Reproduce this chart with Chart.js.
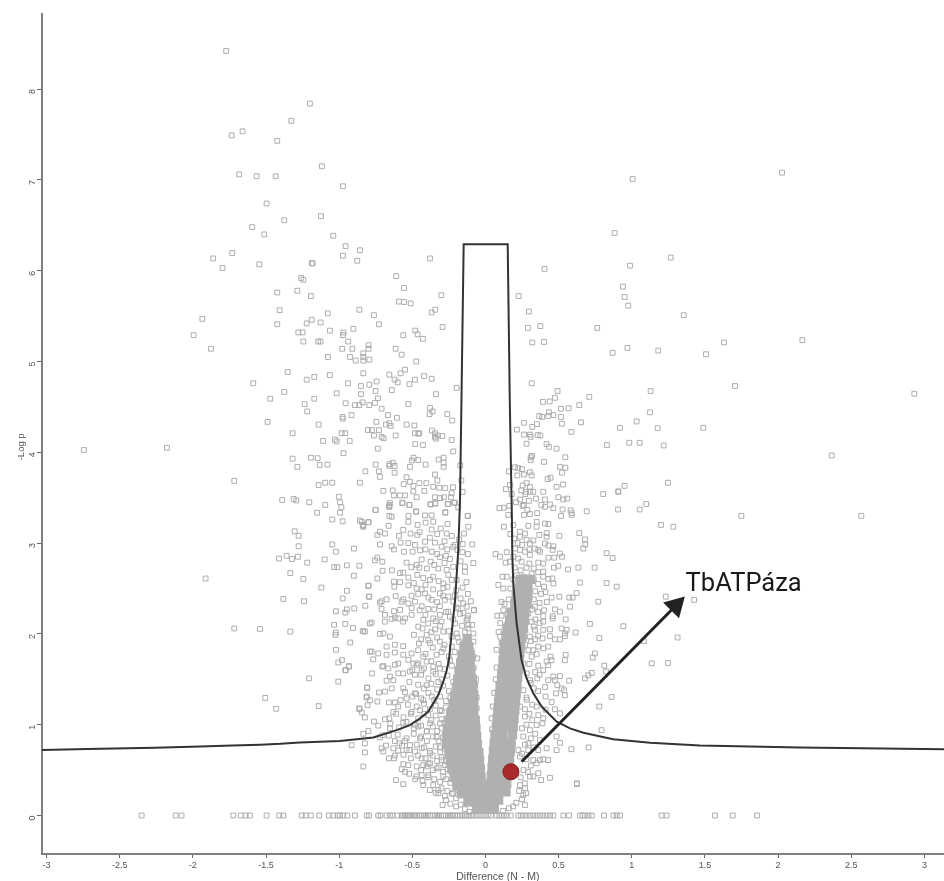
<!DOCTYPE html>
<html>
<head>
<meta charset="utf-8">
<title>Volcano plot</title>
<script src="https://cdn.jsdelivr.net/npm/chart.js@4/dist/chart.umd.js"></script>
<style>
    html, body { margin: 0; padding: 0; background: #fff; overflow: hidden; }
    canvas { display: block; filter: blur(0.45px); }
</style>
</head>
<body>
<canvas id="volcanoChart" width="944" height="881"></canvas>
<script>

const xTicks = [-3, -2.5, -2, -1.5, -1, -0.5, 0, 0.5, 1, 1.5, 2, 2.5, 3];
const yTicks = [0, 1, 2, 3, 4, 5, 6, 7, 8];
const xTitle = "Difference (N - M)";
const xTitleAt = [.085, -.68];
const yTitle = "-Log p";
const yTitleAt = [-3.17, 4.06];
const calloutLabel = "TbATPáza";
const calloutAt = [1.368, 2.472];

// significance curve
const curvePoints = [
    [-3.04,.72],[-2.72,.733],[-2.26,.747],[-1.95,.76],[-1.73,.77],[-1.54,.78],[-1.4,.79],[-1.27,.805],[-.995,.82],[-.767,.86],[-.607,.94],[-.516,.995],
    [-.447,1.07],[-.391,1.145],[-.357,1.235],[-.322,1.33],[-.3,1.42],[-.277,1.53],[-.265,1.6],[-.25,1.71],[-.231,2.01],[-.208,2.37],[-.186,2.92],[-.174,3.475],[-.164,4.58],[-.149,6.29],
    [.152,6.29],[.166,4.58],[.181,3.25],[.183,2.92],[.19,2.555],[.213,2.115],[.247,1.71],[.281,1.51],[.327,1.345],[.384,1.2],[.487,1.033],[.578,.96],[.669,.912],[.873,.84],[1.125,.8],[1.466,.77],[2.15,.75],[3.14,.73]
];

// the highlighted protein and its arrow
const proteinPoint = [.174, .482];
const arrowPoints = [[.247, .592], [1.3, 2.31]];

// outer points, left of zero
const leftOuterPoints = [
    [-1.772,8.42],[-1.327,7.65],[-1.66,7.535],[-1.735,7.49],[-1.423,7.43],[-1.683,7.06],[-1.564,7.04],[-1.434,7.04],[-1.496,6.74],[-1.375,6.555],
    [-1.594,6.48],[-1.512,6.4],[-1.731,6.195],[-1.861,6.135],[-1.797,6.03],[-1.546,6.07],[-1.423,5.76],[-1.286,5.78],[-1.2,7.84],[-1.118,7.15],
    [-.974,6.93],[-1.124,6.6],[-1.186,6.085],[-1.26,5.92],[-2.745,4.025],[-2.177,4.05],[-1.935,5.47],[-1.995,5.29],[-1.876,5.14],[-1.407,5.565],
    [-1.423,5.41],[-1.279,5.32],[-1.352,4.885],[-1.587,4.76],[-1.375,4.665],[-1.471,4.59],[-1.489,4.335],[-1.318,4.21],[-1.318,3.93],[-1.286,3.84],
    [-1.717,3.685],[-1.389,3.475],[-1.311,3.485],[-1.293,3.47],[-1.913,2.61],[-1.304,3.13],[-1.277,3.08],[-1.277,2.965],[-1.411,2.83],[-1.359,2.86],
    [-1.323,2.825],[-1.282,2.85],[-1.218,2.785],[-1.334,2.67],[-1.245,2.605],[-1.382,2.385],[-1.24,2.36],[-1.717,2.06],[-1.541,2.055],[-1.334,2.025],
    [-1.206,1.51],[-1.505,1.295],[-1.43,1.175],[-1.14,1.205]
];

// upper left cloud, down to about 3.3
const leftUpperPoints = [
    [-1.04,6.385],[-.956,6.27],[-.858,6.225],[-.974,6.165],[-.876,6.11],[-1.181,6.08],[-.379,6.135],[-1.245,5.9],[-.61,5.94],[-.557,5.81],
    [-1.193,5.72],[-.302,5.73],[-.591,5.66],[-.557,5.655],[-.511,5.64],[-.862,5.57],[-1.077,5.53],[-.762,5.51],[-.368,5.54],[-.343,5.57],
    [-1.188,5.46],[-1.127,5.43],[-1.222,5.42],[-.728,5.41],[-.293,5.38],[-1.063,5.34],[-.903,5.36],[-1.25,5.32],[-.97,5.32],[-.974,5.29],
    [-.562,5.29],[-.48,5.34],[-.464,5.3],[-.427,5.25],[-1.245,5.22],[-1.143,5.22],[-1.127,5.22],[-.938,5.22],[-.799,5.18],[-.799,5.14],
    [-.979,5.14],[-.91,5.14],[-.614,5.14],[-.573,5.075],[-.835,5.09],[-.835,5.05],[-.835,5.01],[-1.077,5.05],[-.926,5.05],[-.887,5.01],
    [-.794,5.02],[-.473,5],[-.55,4.91],[-.58,4.87],[-.835,4.87],[-.657,4.855],[-1.063,4.85],[-1.17,4.83],[-1.222,4.8],[-.42,4.84],
    [-.368,4.81],[-.621,4.8],[-.6,4.77],[-.744,4.78],[-.482,4.8],[-.52,4.75],[-.94,4.76],[-.794,4.745],[-.851,4.73],[-.197,4.71],
    [-1.017,4.65],[-.851,4.64],[-.751,4.675],[-.64,4.685],[-.338,4.64],[-1.17,4.59],[-.735,4.595],[-.956,4.54],[-.755,4.545],[-.892,4.52],
    [-.862,4.52],[-.84,4.55],[-.794,4.52],[-.527,4.53],[-1.236,4.53],[-1.218,4.45],[-.71,4.48],[-.379,4.49],[-.361,4.45],[-.382,4.42],
    [-.666,4.41],[-.976,4.39],[-.976,4.37],[-.915,4.41],[-.605,4.38],[-.261,4.42],[-.227,4.35],[-1.14,4.305],[-.746,4.335],[-.68,4.305],
    [-.657,4.32],[-.648,4.29],[-.539,4.305],[-.486,4.295],[-.803,4.245],[-.776,4.245],[-.728,4.245],[-.983,4.21],[-.958,4.21],[-.366,4.24],
    [-.345,4.21],[-.482,4.21],[-.459,4.205],[-.452,4.21],[-.762,4.185],[-.614,4.185],[-.71,4.17],[-.696,4.155],[-.325,4.185],[-.295,4.18],
    [-.338,4.15],[-.345,4.17],[-1.029,4.14],[-1.017,4.12],[-1.11,4.125],[-.928,4.125],[-.231,4.135],[-.48,4.09],[-.427,4.08],[-.735,4.04],
    [-.97,3.99],[-.22,4.01],[-1.193,3.94],[-1.147,3.935],[-.491,3.94],[-.459,3.915],[-.502,3.91],[-.32,3.92],[-.286,3.94],[-.286,3.885],
    [-.286,3.84],[-1.133,3.86],[-1.08,3.865],[-.751,3.865],[-.657,3.87],[-.634,3.885],[-.621,3.85],[-.657,3.85],[-.516,3.84],[-.409,3.865],
    [-.172,3.855],[-.821,3.79],[-.728,3.79],[-.621,3.775],[-.721,3.73],[-.345,3.755],[-.539,3.725],[-.329,3.69],[-.165,3.69],[-1.14,3.64],
    [-1.095,3.665],[-1.047,3.665],[-.858,3.665],[-.559,3.65],[-.516,3.675],[-.493,3.63],[-.452,3.66],[-.404,3.66],[-.357,3.62],[-.316,3.61],
    [-.275,3.605],[-.222,3.615],[-.698,3.575],[-.634,3.58],[-.625,3.525],[-.584,3.525],[-.55,3.525],[-.493,3.57],[-.418,3.575],[-.156,3.565],
    [-1.002,3.51],[-.994,3.45],[-.985,3.395],[-.994,3.335],[-.47,3.505],[-.345,3.505],[-.311,3.495],[-.284,3.505],[-.231,3.55],[-.236,3.505],
    [-1.204,3.45],[-1.095,3.42],[-.657,3.42],[-.568,3.44],[-.52,3.42],[-.375,3.425],[-.343,3.435],[-.259,3.43],[-.215,3.445],[-.186,3.395],
    [-1.151,3.335],[-.751,3.365],[-.657,3.405],[-.475,3.35],[-.275,3.335],[-.12,3.3]
];

// middle left cloud, 1.6 to 3.3
const leftMiddlePoints = [
    [-1.047,3.26],[-.976,3.24],[-.858,3.25],[-.839,3.2],[-.835,3.18],[-.801,3.23],[-1.047,2.985],[-1.022,2.905],[-.899,2.94],[-1.099,2.82],
    [-1.035,2.735],[-1.013,2.735],[-.947,2.755],[-.862,2.75],[-.899,2.64],[-1.122,2.51],[-.947,2.475],[-.801,2.53],[-.976,2.39],[-.797,2.41],
    [-1.022,2.25],[-.958,2.235],[-.947,2.27],[-.897,2.28],[-.821,2.31],[-1.035,2.1],[-.958,2.11],[-.906,2.065],[-.839,2.03],[-.824,2.025],
    [-.79,2.115],[-1.026,1.99],[-1.022,2.015],[-.924,1.905],[-1.022,1.825],[-.79,1.805],[-1.006,1.685],[-.981,1.71],[-.933,1.64],[-.958,1.6],
    [-1.006,1.475],[-.81,1.405],[-.812,1.3],[-.806,1.215],[-.862,1.18],
    [-.653,3.44],[-.657,3.4],[-.568,3.445],[-.52,3.42],[-.375,3.43],[-.345,3.44],[-.254,3.43],[-.208,3.445],[-.751,3.365],[-.657,3.3],
    [-.641,3.29],[-.473,3.345],[-.527,3.3],[-.413,3.305],[-.368,3.305],[-.274,3.34],[-.122,3.3],[-.846,3.235],[-.835,3.19],[-.799,3.23],
    [-.662,3.19],[-.721,3.125],[-.687,3.105],[-.739,3.09],[-.527,3.235],[-.464,3.2],[-.409,3.225],[-.357,3.235],[-.259,3.21],[-.117,3.18],
    [-.562,3.145],[-.512,3.105],[-.466,3.09],[-.368,3.15],[-.306,3.16],[-.265,3.105],[-.591,3.08],[-.58,3.005],[-.721,2.985],[-.641,2.965],
    [-.625,2.93],[-.557,2.905],[-.527,3],[-.482,2.98],[-.413,3.015],[-.345,3.005],[-.3,2.96],[-.208,2.98],[-.147,3.105],[-.156,2.99],
    [-.09,2.985],[-.447,2.92],[-.498,2.905],[-.368,2.905],[-.261,2.93],[-.192,2.925],[-.158,2.9],[-.755,2.81],[-.739,2.84],[-.705,2.795],
    [-.539,2.785],[-.436,2.82],[-.375,2.795],[-.311,2.845],[-.243,2.825],[-.083,2.78],[-.14,2.74],[-.703,2.695],[-.639,2.7],[-.507,2.735],
    [-.452,2.73],[-.322,2.72],[-.265,2.705],[-.14,2.685],[-.584,2.67],[-.562,2.675],[-.527,2.62],[-.466,2.65],[-.425,2.615],[-.357,2.63],
    [-.254,2.65],[-.197,2.595],[-.739,2.61],[-.625,2.575],[-.584,2.57],[-.379,2.595],[-.288,2.555],[-.231,2.595],[-.799,2.53],[-.623,2.52],
    [-.527,2.535],[-.47,2.5],[-.436,2.49],[-.357,2.49],[-.288,2.505],[-.156,2.51],[-.794,2.41],[-.614,2.415],[-.562,2.38],[-.505,2.42],
    [-.413,2.445],[-.311,2.445],[-.254,2.41],[-.17,2.39],[-.721,2.345],[-.71,2.36],[-.676,2.38],[-.573,2.355],[-.527,2.335],[-.482,2.355],
    [-.368,2.375],[-.277,2.375],[-.22,2.355],[-.152,2.335],[-.71,2.275],[-.625,2.25],[-.584,2.265],[-.505,2.285],[-.436,2.305],[-.391,2.275],
    [-.311,2.305],[-.254,2.245],[-.186,2.28],[-.129,2.3],[-.079,2.26],[-.687,2.21],[-.619,2.18],[-.55,2.17],[-.505,2.21],[-.425,2.155],
    [-.357,2.17],[-.311,2.21],[-.243,2.19],[-.174,2.22],[-.778,2.125],[-.687,2.135],[-.641,2.165],[-.596,2.17],[-.562,2.135],[-.459,2.08],
    [-.391,2.115],[-.3,2.135],[-.208,2.115],[-.129,2.15],[-.835,2.03],[-.721,2],[-.698,2.005],[-.653,1.97],[-.489,1.99],[-.402,1.99],
    [-.345,2.05],[-.288,2.025],[-.197,2.005],[-.117,2.06],[-.083,2.005],[-.676,1.86],[-.619,1.88],[-.562,1.865],[-.455,1.895],[-.391,1.93],
    [-.311,1.915],[-.231,1.97],[-.152,1.895],[-.083,1.915],[-.778,1.805],[-.733,1.785],[-.676,1.77],[-.619,1.795],[-.562,1.77],[-.505,1.785],
    [-.425,1.75],[-.334,1.77],[-.288,1.84],[-.117,1.84],[-.095,1.82],[-.767,1.72],[-.705,1.64],[-.619,1.66],[-.527,1.715],[-.459,1.675],
    [-.402,1.695],[-.357,1.64],[-.243,1.71],[-.083,1.75],[-.056,1.73]
];

// lower left cloud, under 1.6
const leftLowerPoints = [
    [-.955,1.6],[-.933,1.645],[-.776,1.565],[-.698,1.645],[-.664,1.62],[-.596,1.675],[-.493,1.675],[-.653,1.53],[-.676,1.485],[-.63,1.49],
    [-.596,1.565],[-.562,1.565],[-.516,1.585],[-.482,1.55],[-.436,1.6],[-.357,1.585],[-.311,1.62],[-.808,1.41],[-.728,1.355],[-.687,1.365],
    [-.641,1.4],[-.562,1.4],[-.482,1.345],[-.402,1.435],[-.322,1.47],[-.812,1.31],[-.789,1.27],[-.739,1.255],[-.66,1.245],[-.619,1.245],
    [-.596,1.2],[-.539,1.29],[-.475,1.34],[-.425,1.27],[-.368,1.31],[-.862,1.17],[-.846,1.135],[-.824,1.08],[-.762,1.035],[-.687,1.06],
    [-.657,1.07],[-.63,1.14],[-.505,1.14],[-.447,1.16],[-.391,1.105],[-.311,1.16],[-.8,.93],[-.835,.9],[-.733,.99],[-.703,.885],
    [-.653,.96],[-.562,1.02],[-.482,1],[-.459,.98],[-.379,1.015],[-.311,1.015],[-.243,1.085],[-.915,.775],[-.824,.795],[-.619,.82],
    [-.589,.795],[-.55,.82],[-.516,.775],[-.447,.85],[-.402,.925],[-.334,.865],[-.265,.925],[-.174,.98],[-.824,.695],[-.71,.74],
    [-.698,.705],[-.596,.715],[-.539,.72],[-.482,.705],[-.436,.74],[-.379,.685],[-.311,.75],[-.22,.795],[-.66,.63],[-.625,.63],
    [-.436,.63],[-.379,.575],[-.3,.61],[-.835,.54],[-.562,.565],[-.527,.555],[-.573,.51],[-.55,.48],[-.521,.46],[-.425,.555],
    [-.402,.54],[-.334,.52],[-.277,.555],[-.612,.39],[-.562,.345],[-.47,.43],[-.436,.445],[-.391,.445],[-.425,.335],[-.357,.335],
    [-.288,.43],[-.208,.445],[-.322,.28],[-.322,.245],[-.277,.215],[-.293,.115],[-.22,.245],[-.186,.28],
    [-.079,2.265],[-.122,2.17],[-.117,2.1],[-.065,1.5],[-.095,1.385],[-.06,1.18],[-.079,1.09]
];

// thick part of the left cloud, estimated where single squares cannot be told apart
const leftDensePoints = [
    [-.45,3.12],[-.38,3.06],[-.33,3.1],[-.28,3.02],[-.23,3.08],[-.18,3.04],[-.41,2.93],[-.33,2.88],[-.27,2.86],[-.22,2.96],[-.12,2.88],[-.47,2.76],
    [-.4,2.72],[-.35,2.76],[-.28,2.78],[-.22,2.74],[-.17,2.8],[-.49,2.56],[-.41,2.54],[-.32,2.58],[-.26,2.52],[-.2,2.48],[-.13,2.57],[-.46,2.44],
    [-.39,2.4],[-.33,2.35],[-.29,2.42],[-.21,2.42],[-.12,2.44],[-.1,2.36],[-.45,2.26],[-.35,2.27],[-.2,2.29],[-.15,2.23],
    [-.41,2.21],[-.34,2.14],[-.27,2.24],[-.22,2.16],[-.16,2.09],[-.12,2.2],[-.43,2.06],[-.37,2.02],[-.31,2.09],[-.25,2.03],[-.19,1.96],[-.14,2.02],[-.09,2.1],
    [-.44,1.94],[-.38,1.9],[-.33,1.96],[-.28,1.88],[-.23,1.86],[-.18,1.91],[-.13,1.83],[-.46,1.82],[-.41,1.78],[-.36,1.85],[-.3,1.8],[-.25,1.75],[-.21,1.8],[-.15,1.74],
    [-.47,1.66],[-.42,1.62],[-.37,1.7],[-.32,1.67],[-.28,1.61],[-.23,1.65],[-.19,1.6],[-.08,1.63],[-.5,1.6],[-.44,1.55],[-.39,1.51],[-.34,1.56],[-.3,1.5],[-.26,1.54],[-.22,1.47],
    [-.52,1.47],[-.46,1.44],[-.42,1.4],[-.37,1.45],[-.33,1.39],[-.29,1.43],[-.25,1.37],[-.21,1.41],[-.07,1.44],
    [-.55,1.36],[-.5,1.31],[-.44,1.29],[-.39,1.35],[-.35,1.27],[-.31,1.31],[-.27,1.26],[-.24,1.3],[-.06,1.3],
    [-.58,1.27],[-.53,1.22],[-.47,1.2],[-.42,1.23],[-.38,1.17],[-.34,1.21],[-.3,1.15],[-.27,1.19],[-.25,1.12],
    [-.61,1.12],[-.56,1.08],[-.51,1.12],[-.46,1.07],[-.42,1.12],[-.37,1.05],[-.34,1.1],[-.3,1.06],[-.28,1.02],
    [-.65,1.01],[-.59,.97],[-.54,1.03],[-.49,.96],[-.44,.99],[-.4,.93],[-.36,.98],[-.33,.93],[-.3,.96],
    [-.72,.86],[-.66,.88],[-.6,.89],[-.54,.85],[-.49,.9],[-.44,.87],[-.4,.82],[-.36,.87],[-.32,.82],[-.29,.86],
    [-.68,.77],[-.63,.74],[-.57,.77],[-.52,.72],[-.47,.78],[-.42,.75],[-.38,.71],[-.34,.76],[-.31,.7],[-.28,.74],
    [-.62,.66],[-.56,.67],[-.51,.63],[-.46,.66],[-.41,.63],[-.36,.66],[-.33,.6],[-.3,.64],[-.27,.6],
    [-.47,.54],[-.44,.5],[-.39,.57],[-.36,.5],[-.32,.53],[-.29,.48],[-.26,.51],
    [-.48,.4],[-.43,.38],[-.39,.42],[-.35,.4],[-.31,.37],[-.27,.4],[-.24,.36],
    [-.38,.28],[-.34,.25],[-.3,.3],[-.26,.27],[-.23,.24],[-.2,.19],[-.27,.17],[-.24,.13],[-.2,.1],[-.17,.12],[-.14,.07],[-.11,.04]
];

// right of zero, above 3.3
const rightUpperPoints = [
    [.404,6.02],[.227,5.72],[.297,5.55],[.29,5.37],[.375,5.39],[.764,5.37],[.32,5.21],[.4,5.215],[.316,4.76],[.493,4.675],
    [.71,4.61],[.475,4.6],[.439,4.56],[.393,4.555],[.641,4.52],[.516,4.48],[.568,4.485],[.368,4.4],[.388,4.39],[.434,4.44],
    [.429,4.4],[.464,4.41],[.516,4.39],[.523,4.315],[.653,4.33],[.587,4.225],[.263,4.325],[.32,4.28],[.352,4.31],[.215,4.25],
    [.263,4.195],[.304,4.195],[.309,4.17],[.357,4.19],[.375,4.185],[.281,4.095],[.418,4.09],[.434,4.06],[.486,4.04],[.546,3.945],
    [.309,3.945],[.318,3.96],[.309,3.915],[.4,3.895],[.509,3.84],[.546,3.83],[.523,3.775],[.202,3.835],[.224,3.825],[.249,3.815],
    [.304,3.78],[.161,3.79],[.218,3.745],[.263,3.755],[.316,3.745],[.445,3.72],[.425,3.705],[.53,3.645],[.486,3.62],[.281,3.66],
    [.254,3.635],[.304,3.62],[.167,3.64],[.14,3.595],[.245,3.58],[.277,3.565],[.304,3.565],[.327,3.565],[.395,3.565],[.179,3.54],
    [.272,3.54],[.345,3.49],[.407,3.48],[.498,3.505],[.532,3.48],[.559,3.49],[.297,3.465],[.208,3.45],[.236,3.48],[.263,3.42],
    [.382,3.42],[.441,3.425],[.464,3.385],[.527,3.37],[.582,3.36],[.692,3.35],[.407,3.4],[.095,3.385],[.126,3.39],[.163,3.41],
    [.254,3.41],[.286,3.365],[.263,3.31],[.304,3.32],[.354,3.33],[.516,3.3],[.589,3.31],[.589,3.33],[.156,3.31]
];

// right of zero, below 3.3
const rightLowerPoints = [
    [.641,3.11],[.505,3.08],[.68,3.04],[.682,2.985],[.669,2.94],[.418,3.11],[.418,3.07],[.368,3.09],[.126,3.18],[.293,3.19],
    [.35,3.235],[.407,3.215],[.43,3.21],[.35,3.18],[.236,3.125],[.27,3.105],[.236,3.07],[.197,3.05],[.281,3.035],[.304,2.995],
    [.327,3.03],[.407,2.995],[.069,2.88],[.828,2.89],[.869,2.835],[.202,2.94],[.236,2.925],[.27,2.905],[.338,2.94],[.373,2.905],
    [.43,2.975],[.464,2.965],[.459,2.925],[.509,2.885],[.523,2.85],[.19,2.85],[.224,2.83],[.304,2.87],[.361,2.925],[.43,2.84],
    [.47,2.84],[.138,2.785],[.167,2.795],[.247,2.795],[.3,2.775],[.361,2.785],[.395,2.775],[.468,2.73],[.498,2.75],[.564,2.71],
    [.635,2.73],[.746,2.73],[.117,2.63],[.145,2.63],[.213,2.645],[.259,2.63],[.316,2.665],[.395,2.63],[.395,2.685],[.43,2.605],
    [.457,2.61],[.464,2.555],[.646,2.565],[.828,2.56],[.897,2.52],[1.232,2.41],[1.426,2.375],[.623,2.45],[.573,2.4],[.596,2.4],
    [.452,2.4],[.505,2.41],[.771,2.355],[.578,2.3],[.509,2.245],[.475,2.27],[.395,2.195],[.459,2.195],[.459,2.17],[.548,2.16],
    [.714,2.11],[.942,2.085],[.395,2.135],[.395,2.045],[.441,2.05],[.52,2.06],[.555,2.045],[.616,2.015],[.778,1.955],[1.313,1.96],
    [.441,1.975],[.475,1.94],[.509,1.94],[.543,1.975],[.543,2.005],[1.083,1.92],[.361,1.86],[.429,1.86],[.395,1.84],[.327,1.82],
    [.748,1.785],[.733,1.74],[.548,1.77],[.445,1.75],[.543,1.71],[.418,1.695],[.452,1.71],[.361,1.65],[.429,1.655],[1.136,1.675],
    [1.247,1.68],[.812,1.65],[.824,1.585],[.395,1.6],[.464,1.53],[.509,1.535],[.475,1.49],[.429,1.49],[.354,1.51],[.726,1.57],
    [.703,1.545],[.68,1.51],[.571,1.485],[.407,1.415],[.491,1.435],[.52,1.4],[.537,1.38],[.482,1.345],[.543,1.325],[.411,1.31],
    [.862,1.305],[.778,1.2],[.452,1.25],[.475,1.17],[.411,1.165],[.509,1.125],[.361,1.105],[.395,1.07],[.389,1.015],[.35,.995],
    [.794,.94],[.587,.73],[.705,.75],[.486,.87],[.509,.8],[.486,.72],[.418,.74],[.361,.72],[.372,.83],[.293,.795],
    [.293,.72],[.395,.62],[.429,.61],[.327,.61],[.35,.575],[.372,.61],[.441,.415],[.38,.39],[.361,.465],[.327,.43],
    [.304,.43],[.625,.355],[.625,.345],[.27,.355],[.236,.335],[.277,.245],[.259,.225],[.27,.115],
    [.338,2.3],[.293,2.225],[.316,2.135],[.338,2.045],[.304,1.97],[.27,1.88],[.293,1.82],[.316,1.75],[.259,1.675],[.282,1.565],
    [.304,1.49],[.259,1.38],[.282,1.275],[.236,1.2],[.27,1.09],[.304,.94],[.259,.87],[.225,.72],[.236,.65],
    [.122,2.5],[.088,2.54],[.122,2.26],[.145,2.1],[.076,1.825],[.122,1.785],[.099,1.565],[.076,1.63],[.042,1.07],[.145,2.9],[.099,2.85]
];

// thick part of the right cloud, estimated the same way
const rightDensePoints = [
    [.17,3.1],[.19,3.2],[.22,3],[.25,2.98],[.3,2.93],[.2,2.73],[.24,2.7],[.28,2.73],[.33,2.72],[.36,2.68],[.19,2.6],[.33,2.6],[.36,2.55],[.4,2.52],
    [.17,2.5],[.34,2.47],[.38,2.44],[.41,2.46],[.16,2.38],[.33,2.38],[.37,2.34],[.42,2.35],[.13,2.33],[.32,2.27],[.36,2.24],[.4,2.26],[.11,2.2],[.15,2.22],
    [.34,2.16],[.37,2.12],[.1,2.12],[.13,2.05],[.33,2.08],[.36,1.98],[.39,1.95],[.1,1.97],[.11,1.9],[.31,1.92],[.34,1.94],[.35,1.78],[.3,1.67],[.34,1.58],
    [.37,1.55],[.31,1.46],[.33,1.4],[.36,1.37],[.28,1.3],[.32,1.22],[.35,1.2],[.27,1.17],[.3,1.12],[.32,1.05],[.34,.9],[.28,1],[.25,.96],[.31,.85],
    [.27,.78],[.33,.75],[.25,.68],[.28,.62],[.31,.55],[.26,.5],[.29,.48],[.24,.42],[.27,.3],[.23,.27],[.25,.18],[.21,.14],[.19,.1],[.16,.08],[.12,.05],
    [.11,2.35],[.08,2.2],[.09,2.02],[.07,1.5],[.06,1.35],[.05,1.2],[.045,.95]
];

// far right outliers
const rightOuterPoints = [
    [1.006,7.01],[2.027,7.08],[.883,6.415],[1.266,6.145],[.988,6.055],[.94,5.825],[.951,5.71],[.976,5.615],[1.355,5.51],[1.63,5.21],
    [2.166,5.235],[.869,5.095],[.97,5.15],[1.181,5.12],[1.507,5.08],[1.706,4.73],[2.931,4.645],[1.489,4.27],[2.366,3.965],[1.749,3.3],
    [2.569,3.3],[1.129,4.675],[1.125,4.44],[1.033,4.34],[.919,4.27],[1.177,4.265],[.983,4.105],[1.054,4.105],[.83,4.08],[1.218,4.075],
    [1.247,3.665],[.951,3.63],[.908,3.565],[.908,3.57],[.805,3.54],[1.099,3.43],[.906,3.37],[1.054,3.37],[1.2,3.2],[1.284,3.18]
];

// points with -log p of zero, along the bottom
const zeroRowX = [
    -2.35,-2.118,-2.077,-1.724,-1.673,-1.639,-1.61,-1.496,-1.409,-1.382,-1.256,-1.229,-1.193,-1.136,-1.07,-1.04,-1.01,-.995,-.972,-.944,-.892,
    -.812,-.796,-.733,-.717,-.676,-.653,-.635,-.603,-.573,-.562,-.55,-.539,-.527,-.516,-.503,-.489,-.478,-.466,-.451,-.436,-.42,-.407,-.393,-.379,
    -.36,-.345,-.33,-.318,-.303,-.288,-.27,-.254,-.243,-.231,-.22,-.208,-.19,-.174,-.16,-.143,-.13,-.115,-.1,-.083,-.061,-.04,-.02,0,.02,.038,
    .076,.095,.11,.126,.145,.172,.224,.241,.259,.281,.304,.327,.35,.372,.395,.418,.441,.464,.532,.571,.646,.664,.68,.703,.726,.81,.874,.897,.92,
    1.204,1.238,1.569,1.69,1.856
];

// solid grey lobes next to the central gap, one row per line
const coreLeftPoints = [
    [-.125,1.95],
    [-.147,1.86],[-.115,1.86],
    [-.16,1.77],[-.12,1.77],[-.105,1.77],
    [-.17,1.68],[-.13,1.68],[-.105,1.68],
    [-.18,1.59],[-.14,1.59],[-.1,1.59],
    [-.19,1.5],[-.145,1.5],[-.1,1.5],[-.09,1.5],
    [-.195,1.41],[-.15,1.41],[-.11,1.41],[-.085,1.41],
    [-.21,1.32],[-.165,1.32],[-.12,1.32],[-.08,1.32],
    [-.22,1.23],[-.175,1.23],[-.125,1.23],[-.08,1.23],
    [-.235,1.14],[-.185,1.14],[-.135,1.14],[-.08,1.14],
    [-.25,1.05],[-.2,1.05],[-.15,1.05],[-.105,1.05],[-.07,1.05],
    [-.26,.96],[-.21,.96],[-.16,.96],[-.11,.96],[-.065,.96],
    [-.265,.87],[-.215,.87],[-.165,.87],[-.11,.87],[-.06,.87],
    [-.265,.78],[-.215,.78],[-.165,.78],[-.11,.78],[-.055,.78],
    [-.25,.69],[-.2,.69],[-.15,.69],[-.1,.69],[-.045,.69],
    [-.24,.6],[-.19,.6],[-.14,.6],[-.09,.6],[-.04,.6],
    [-.23,.51],[-.18,.51],[-.13,.51],[-.08,.51],[-.035,.51],
    [-.215,.42],[-.165,.42],[-.115,.42],[-.065,.42],[-.03,.42],
    [-.195,.33],[-.145,.33],[-.1,.33],[-.055,.33],[-.025,.33],
    [-.165,.24],[-.12,.24],[-.07,.24],[-.02,.24],
    [-.12,.15],[-.075,.15],[-.03,.15],[.015,.15],
    [-.06,.07],[-.02,.07],[.02,.07],[.05,.07]
];
const coreRightPoints = [
    [.24,2.6],[.28,2.6],[.31,2.6],
    [.23,2.51],[.27,2.51],[.29,2.51],
    [.21,2.42],[.25,2.42],[.29,2.42],
    [.2,2.33],[.24,2.33],[.285,2.33],
    [.175,2.24],[.22,2.24],[.27,2.24],
    [.165,2.15],[.21,2.15],[.265,2.15],
    [.15,2.06],[.2,2.06],[.26,2.06],
    [.14,1.97],[.19,1.97],[.25,1.97],
    [.13,1.88],[.18,1.88],[.24,1.88],
    [.125,1.79],[.175,1.79],[.235,1.79],
    [.12,1.7],[.17,1.7],[.23,1.7],
    [.115,1.61],[.165,1.61],[.225,1.61],
    [.11,1.52],[.16,1.52],[.22,1.52],
    [.1,1.43],[.155,1.43],[.215,1.43],
    [.095,1.34],[.15,1.34],[.21,1.34],
    [.09,1.25],[.145,1.25],[.205,1.25],
    [.085,1.16],[.14,1.16],[.2,1.16],
    [.08,1.07],[.135,1.07],[.195,1.07],
    [.075,.98],[.13,.98],[.19,.98],
    [.065,.89],[.12,.89],[.185,.89],
    [.06,.8],[.115,.8],[.175,.8],
    [.055,.71],[.11,.71],[.17,.71],
    [.05,.62],[.105,.62],[.165,.62],
    [.045,.53],[.1,.53],[.155,.53],
    [.04,.44],[.095,.44],[.15,.44],
    [.035,.35],[.09,.35],[.145,.35],
    [.03,.26],[.08,.26],[.14,.26],
    [.035,.17],[.09,.17],
    [.01,.08],[.06,.08]
];

//// Helpers

const toXY = (pairs) => pairs.map(p => ({ x: p[0], y: p[1] }));

const openSquares = (pairs) => ({
    data: toXY(pairs),
    pointStyle: 'rect',
    pointRadius: 3.4,
    backgroundColor: 'rgba(255,255,255,0)',
    borderColor: '#adadad',
    borderWidth: 1,
    showLine: false,
    order: 5
});

// callout and axis titles, placed through the scales
const textPlugin = {
    id: 'chartText',
    afterDatasetsDraw(chart) {
        const { ctx, scales } = chart;
        const px = (at) => [scales.x.getPixelForValue(at[0]), scales.y.getPixelForValue(at[1])];
        ctx.save();
        ctx.font = '25.5px Roboto';
        ctx.fillStyle = '#1a1a1a';
        ctx.textBaseline = 'alphabetic';
        ctx.fillText(calloutLabel, ...px(calloutAt));

        ctx.fillStyle = '#555';
        ctx.textAlign = 'center';
        ctx.textBaseline = 'middle';
        ctx.font = '10.5px "Liberation Sans"';
        ctx.fillText(xTitle, ...px(xTitleAt));

        ctx.font = '9.5px "Liberation Sans"';
        ctx.translate(...px(yTitleAt));
        ctx.rotate(-Math.PI / 2);
        ctx.fillText(yTitle, 0, 0);
        ctx.restore();
    }
};

// no margins reserved for the end labels, the axes run to the canvas edge
const noEdgePadding = (axis) => {
    axis.paddingLeft = 0;
    axis.paddingRight = 0;
    axis.paddingTop = 0;
    axis.paddingBottom = 0;
};

//// Chart

Chart.defaults.font.family = '"Liberation Sans", Arial, sans-serif';
Chart.defaults.animation = false;

new Chart(document.getElementById('volcanoChart'), {
    type: 'scatter',
    data: {
        datasets: [
            {
                data: toXY([proteinPoint]),
                pointRadius: 8,
                backgroundColor: '#a82a2a',
                borderColor: '#7c2020',
                borderWidth: 1,
                order: 0
            },
            {
                data: toXY(arrowPoints),
                showLine: true,
                borderColor: '#222',
                borderWidth: 3,
                pointStyle: 'triangle',
                pointRadius: [0, 10],
                pointRotation: [0, 45],
                backgroundColor: '#222',
                pointBorderColor: '#222',
                order: 1
            },
            {
                data: toXY(curvePoints),
                showLine: true,
                borderColor: '#333',
                borderWidth: 2,
                tension: 0,
                pointRadius: 0,
                order: 2
            },
            {
                data: toXY(coreLeftPoints.concat(coreRightPoints)),
                pointStyle: 'rect',
                pointRadius: 6.6,
                backgroundColor: '#b0b0b0',
                borderWidth: 0,
                showLine: false,
                order: 3
            },
            openSquares(leftOuterPoints),
            openSquares(leftUpperPoints),
            openSquares(leftMiddlePoints),
            openSquares(leftLowerPoints),
            openSquares(leftDensePoints),
            openSquares(rightUpperPoints),
            openSquares(rightLowerPoints),
            openSquares(rightDensePoints),
            openSquares(rightOuterPoints),
            openSquares(zeroRowX.map(x => [x, 0]))
        ]
    },
    options: {
        responsive: false,
        layout: { autoPadding: false, padding: { top: 14, left: 0, right: 0, bottom: 0 } },
        plugins: { legend: { display: false }, tooltip: { enabled: false } },
        scales: {
            x: {
                type: 'linear',
                min: -3.031,
                max: 3.134,
                afterBuildTicks: (axis) => { axis.ticks = xTicks.map(v => ({ value: v })); },
                afterFit: (axis) => { axis.height = 27; noEdgePadding(axis); },
                grid: { drawOnChartArea: false, tickLength: 4, tickColor: '#666', tickWidth: 1 },
                border: { color: '#808080', width: 2 },
                ticks: { color: '#555', font: { size: 9 }, padding: 2, maxRotation: 0, callback: v => String(v) }
            },
            y: {
                type: 'linear',
                min: -0.424,
                max: 8.827,
                afterBuildTicks: (axis) => { axis.ticks = yTicks.map(v => ({ value: v })); },
                afterFit: (axis) => { axis.width = 42; noEdgePadding(axis); },
                grid: { drawOnChartArea: false, tickLength: 5, tickColor: '#666', tickWidth: 1 },
                border: { color: '#808080', width: 2 },
                ticks: { color: '#555', font: { size: 9 }, padding: 4, minRotation: 90, maxRotation: 90, callback: v => String(v) }
            }
        }
    },
    plugins: [textPlugin]
});
</script>
</body>
</html>
